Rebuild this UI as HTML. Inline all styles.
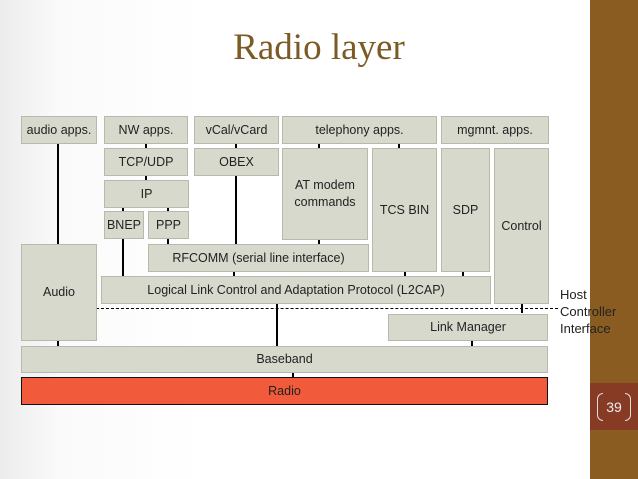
<!DOCTYPE html>
<html><head><style>
body{margin:0;width:638px;height:479px;overflow:hidden;background:linear-gradient(90deg,#ececec 0,#fafafa 60px,#fff 200px);position:relative;font-family:"Liberation Sans",sans-serif}
.b{position:absolute;background:#d8d9cd;border:1px solid #b8b9aa;box-sizing:border-box;display:flex;align-items:center;justify-content:center;text-align:center;font-size:12.5px;color:#222;line-height:17px}
.l{position:absolute;background:#000;width:2px}
.t{position:absolute;background:#000;width:2px}
</style></head><body>
<div style="position:absolute;left:590px;top:0;width:48px;height:479px;background:#8a5c22"></div>
<div style="position:absolute;left:590px;top:383px;width:48px;height:47px;background:#873a24"></div>
<div style="position:absolute;left:590px;top:393px;width:48px;text-align:center;color:#eee;font-size:14px;line-height:26px">
<span style="display:inline-block;border:1.5px solid #ddd;border-top-left-radius:6px;border-bottom-left-radius:6px;border-right:none;width:5px;height:26px;vertical-align:middle"></span><span style="vertical-align:middle;margin:0 3px">39</span><span style="display:inline-block;border:1.5px solid #ddd;border-top-right-radius:6px;border-bottom-right-radius:6px;border-left:none;width:5px;height:26px;vertical-align:middle"></span></div>
<div style="position:absolute;left:0;width:638px;top:26px;text-align:center;font-family:'Liberation Serif',serif;font-size:37px;color:#7b5a24;padding-right:0">Radio layer</div>

<div class="l" style="left:57px;top:143px;height:101px"></div>
<div class="l" style="left:122px;top:238px;height:38px"></div>
<div class="l" style="left:235px;top:175px;height:69px"></div>
<div class="l" style="left:276px;top:303px;height:43px"></div>
<div class="t" style="left:145px;top:143px;height:5px"></div>
<div class="t" style="left:145px;top:175px;height:5px"></div>
<div class="t" style="left:122px;top:207px;height:4px"></div>
<div class="t" style="left:167px;top:207px;height:4px"></div>
<div class="t" style="left:167px;top:238px;height:6px"></div>
<div class="t" style="left:235px;top:143px;height:5px"></div>
<div class="t" style="left:233px;top:271px;height:5px"></div>
<div class="t" style="left:318px;top:143px;height:5px"></div>
<div class="t" style="left:398px;top:143px;height:5px"></div>
<div class="t" style="left:318px;top:239px;height:5px"></div>
<div class="t" style="left:404px;top:271px;height:5px"></div>
<div class="t" style="left:462px;top:271px;height:5px"></div>
<div class="t" style="left:521px;top:303px;height:10px"></div>
<div class="t" style="left:471px;top:340px;height:6px"></div>
<div class="t" style="left:57px;top:340px;height:6px"></div>
<div class="t" style="left:292px;top:372px;height:5px"></div>
<div style="position:absolute;left:96px;top:308px;width:462px;border-top:1px dashed #000"></div>

<div class="b" style="left:21px;top:116px;width:76px;height:28px">audio apps.</div>
<div class="b" style="left:104px;top:116px;width:84px;height:28px">NW apps.</div>
<div class="b" style="left:194px;top:116px;width:85px;height:28px">vCal/vCard</div>
<div class="b" style="left:282px;top:116px;width:155px;height:28px">telephony apps.</div>
<div class="b" style="left:441px;top:116px;width:108px;height:28px">mgmnt. apps.</div>
<div class="b" style="left:104px;top:148px;width:84px;height:28px">TCP/UDP</div>
<div class="b" style="left:194px;top:148px;width:85px;height:28px">OBEX</div>
<div class="b" style="left:282px;top:148px;width:86px;height:92px;align-items:flex-start;padding-top:28px">AT modem<br>commands</div>
<div class="b" style="left:372px;top:148px;width:65px;height:124px">TCS BIN</div>
<div class="b" style="left:441px;top:148px;width:49px;height:124px">SDP</div>
<div class="b" style="left:494px;top:148px;width:55px;height:156px">Control</div>
<div class="b" style="left:104px;top:180px;width:85px;height:28px">IP</div>
<div class="b" style="left:104px;top:211px;width:40px;height:28px">BNEP</div>
<div class="b" style="left:148px;top:211px;width:41px;height:28px">PPP</div>
<div class="b" style="left:21px;top:244px;width:76px;height:97px">Audio</div>
<div class="b" style="left:148px;top:244px;width:221px;height:28px">RFCOMM (serial line interface)</div>
<div class="b" style="left:101px;top:276px;width:390px;height:28px">Logical Link Control and Adaptation Protocol (L2CAP)</div>
<div class="b" style="left:388px;top:314px;width:160px;height:27px">Link Manager</div>
<div class="b" style="left:21px;top:346px;width:527px;height:27px">Baseband</div>
<div class="b" style="left:21px;top:377px;width:527px;height:28px;background:#f15a3b;border:1px solid #111">Radio</div>
<div style="position:absolute;left:560px;top:286px;font-size:13px;line-height:17px;color:#222">Host<br>Controller<br>Interface</div>
</body></html>
